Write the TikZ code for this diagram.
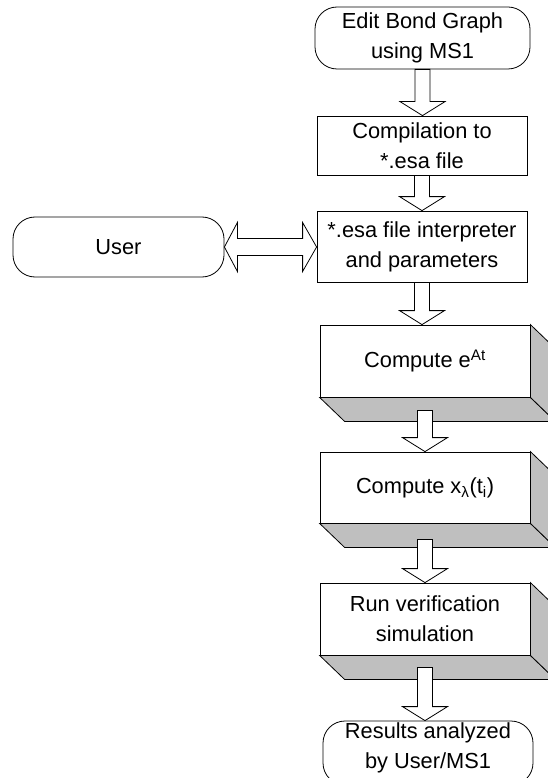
\documentclass[tikz,border=0pt]{standalone}
\usepackage{fontspec}
\setmainfont{Liberation Sans}
\usetikzlibrary{calc}

\newcommand{\boxfont}{\fontsize{21.8}{30}\selectfont}

\tikzset{
  box/.style={draw=black, fill=white, line width=0.8pt, minimum width=210pt,
    align=center, font=\boxfont, inner sep=0pt},
  term/.style={box, rounded corners=22pt},
  shadowface/.style={draw=black, fill=black!25, line width=0.8pt},
  hollow/.style={draw=black, fill=white, line width=0.8pt},
}

% hollow block arrow pointing down
\newcommand{\downblock}[2]{%
  \path[hollow] let \p1=(#1), \p2=(#2) in
    (\x1-7.5pt,\y1) -- (\x1+7.5pt,\y1) -- (\x1+7.5pt,\y2+14pt)
    -- (\x1+22.5pt,\y2+14pt) -- (\x1,\y2) -- (\x1-22.5pt,\y2+14pt)
    -- (\x1-7.5pt,\y2+14pt) -- cycle;}

% hollow block arrow with two heads
\newcommand{\sideblock}[2]{%
  \path[hollow] let \p1=(#1), \p2=(#2) in
    (\x1,\y1) -- (\x1+13pt,\y1+24.5pt) -- (\x1+13pt,\y1+8.5pt)
    -- (\x2-14pt,\y1+8.5pt) -- (\x2-14pt,\y1+24.5pt) -- (\x2,\y1)
    -- (\x2-14pt,\y1-24.5pt) -- (\x2-14pt,\y1-8.5pt)
    -- (\x1+13pt,\y1-8.5pt) -- (\x1+13pt,\y1-24.5pt) -- cycle;}

% grey sides of a raised box
\newcommand{\depthbox}[1]{%
  \draw[shadowface] (#1.south west) -- ++(25,24) -- ($(#1.south east)+(25,24)$)
    -- (#1.south east) -- cycle;
  \draw[shadowface] (#1.north east) -- ++(25,24) -- ($(#1.south east)+(25,24)$)
    -- (#1.south east) -- cycle;}

\begin{document}
\begin{tikzpicture}[x=1pt,y=-1pt]

    \useasboundingbox (0,0) rectangle (548,778);
    \clip (0,0) rectangle (548,778);

    % flat boxes
    \node[term, minimum width=215pt, minimum height=62pt] (edit) at (422.5,38) {Edit Bond Graph\\using MS1};
    \node[box, minimum height=59pt] (comp) at (422,145.5) {Compilation to\\*.esa file};
    \node[box, minimum height=71pt] (interp) at (422,246.5) {*.esa file interpreter\\and parameters};
    \node[term, minimum width=211pt, minimum height=60pt] (user) at (118.5,247) {User};

    % raised boxes
    \node[box, minimum height=72pt] (eat) at (425,361) {Compute e\textsuperscript{At}};
    \node[box, minimum height=71pt] (xlam) at (425,487.5) {Compute x\textsubscript{λ}(t\textsubscript{i})};
    \node[box, minimum height=72pt] (run) at (425,619) {Run verification\\simulation};
    \depthbox{eat}
    \depthbox{xlam}
    \depthbox{run}

    \node[term, minimum height=64pt,
      label={[yshift=5pt, align=center, font=\boxfont]center:Results analyzed\\by User/MS1}]
      (res) at (428,753) {};

    % arrow starts inside the grey sides
    \coordinate (eatout) at ($(eat.south)+(0,13)$);
    \coordinate (xlamout) at ($(xlam.south)+(0,16)$);
    \coordinate (runout) at ($(run.south)+(0,12)$);

    % block arrows
    \downblock{edit.south}{comp.north}
    \downblock{comp.south}{interp.north}
    \downblock{interp.south}{eat.north}
    \downblock{eatout}{xlam.north}
    \downblock{xlamout}{run.north}
    \downblock{runout}{res.north}
    \sideblock{user.east}{interp.west}

\end{tikzpicture}
\end{document}
